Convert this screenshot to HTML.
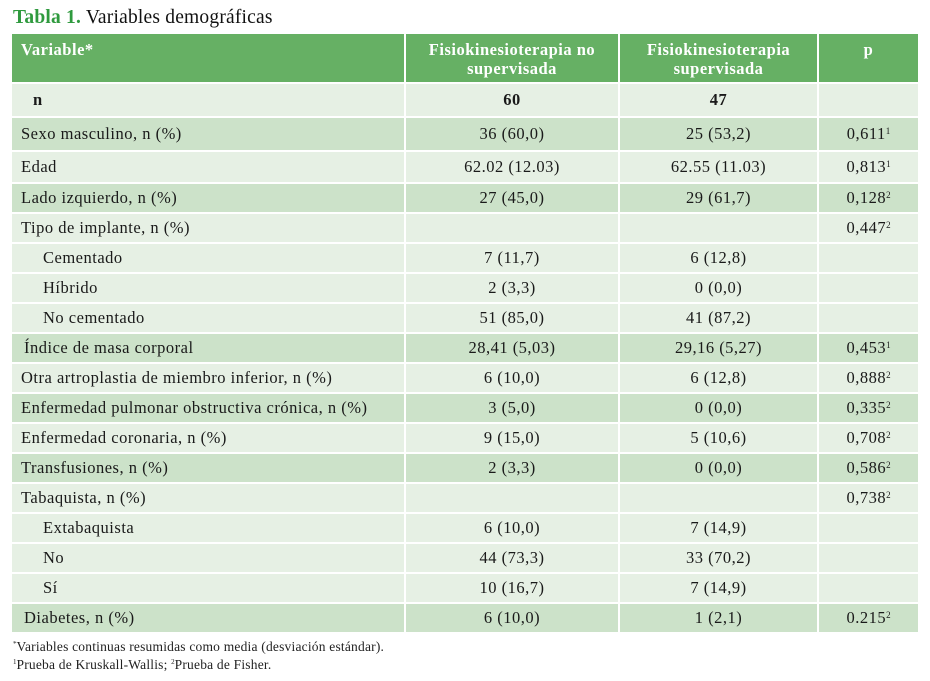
<!DOCTYPE html>
<html><head><meta charset="utf-8"><style>
body{margin:0;width:930px;height:681px;background:#fff;font-family:"Liberation Serif",serif;position:relative;overflow:hidden}
.c{position:absolute;box-sizing:border-box;font-size:16.5px;letter-spacing:0.5px;color:#1a1a1a;display:flex;align-items:center;white-space:nowrap}
.h{background:#66b064;color:#fff;font-weight:bold;align-items:flex-start;justify-content:center;text-align:center;line-height:19px;padding-top:6px}
.l{background:#e6f0e4}.d{background:#cce2c9}
.ctr{justify-content:center}
sup{font-size:9px;vertical-align:top;position:relative;top:-3px;letter-spacing:0}
</style></head><body>
<div style="position:absolute;left:13px;top:7px;font-size:19.5px;letter-spacing:0.2px;color:#111"><b style="color:#2f9a3e">Tabla 1.</b> Variables demográficas</div>
<div id="t"></div>
<div style="position:absolute;left:13px;top:638px;font-size:13.5px;letter-spacing:0.2px;line-height:18px;color:#222"><sup style="font-size:7px">*</sup>Variables continuas resumidas como media (desviación estándar).<br><sup style="font-size:7px">1</sup>Prueba de Kruskall-Wallis; <sup style="font-size:7px">2</sup>Prueba de Fisher.</div>
<script>
var cols=[[12,406],[406,620],[620,819],[819,920]];
var rows=[
["n","60","47","",0,1,1],
["Sexo masculino, n (%)","36 (60,0)","25 (53,2)","0,611<sup>1</sup>",1],
["Edad","62.02 (12.03)","62.55 (11.03)","0,813<sup>1</sup>",0],
["Lado izquierdo, n (%)","27 (45,0)","29 (61,7)","0,128<sup>2</sup>",1],
["Tipo de implante, n (%)","","","0,447<sup>2</sup>",0],
["Cementado","7 (11,7)","6 (12,8)","",0,2],
["Híbrido","2 (3,3)","0 (0,0)","",0,2],
["No cementado","51 (85,0)","41 (87,2)","",0,2],
["Índice de masa corporal","28,41 (5,03)","29,16 (5,27)","0,453<sup>1</sup>",1,3],
["Otra artroplastia de miembro inferior, n (%)","6 (10,0)","6 (12,8)","0,888<sup>2</sup>",0],
["Enfermedad pulmonar obstructiva crónica, n (%)","3 (5,0)","0 (0,0)","0,335<sup>2</sup>",1],
["Enfermedad coronaria, n (%)","9 (15,0)","5 (10,6)","0,708<sup>2</sup>",0],
["Transfusiones, n (%)","2 (3,3)","0 (0,0)","0,586<sup>2</sup>",1],
["Tabaquista, n (%)","","","0,738<sup>2</sup>",0],
["Extabaquista","6 (10,0)","7 (14,9)","",0,2],
["No","44 (73,3)","33 (70,2)","",0,2],
["Sí","10 (16,7)","7 (14,9)","",0,2],
["Diabetes, n (%)","6 (10,0)","1 (2,1)","0.215<sup>2</sup>",1,3]];
var ys=[83,117,151,183];for(var i=4;i<=18;i++)ys.push(183+(i-3)*30);
var h='';
var hd=["Variable*","Fisiokinesioterapia no<br>supervisada","Fisiokinesioterapia<br>supervisada","p"];
for(var j=0;j<4;j++){var s='left:'+cols[j][0]+'px;top:34px;width:'+(cols[j][1]-cols[j][0]-2)+'px;height:48px;';
if(j==0)s+='justify-content:flex-start;padding-left:9px;';h+='<div class="c h" style="'+s+'">'+hd[j]+'</div>';}
rows.forEach(function(r,i){var y=ys[i],hh=ys[i+1]-y-2;
for(var j=0;j<4;j++){var s='left:'+cols[j][0]+'px;top:'+(y+1)+'px;width:'+(cols[j][1]-cols[j][0]-2)+'px;height:'+hh+'px;';
var cls='c '+(r[4]?'d':'l');var t=r[j];
if(j==0){var pl=r[5]==1?21:r[5]==2?31:r[5]==3?12:9;s+='padding-left:'+pl+'px;';if(r[5]==1)t='<b>'+t+'</b>';}
else{cls+=' ctr';if(r[6])t='<b>'+t+'</b>';}
h+='<div class="'+cls+'" style="'+s+'">'+t+'</div>';}});
document.getElementById('t').innerHTML=h;
</script>
</body></html>
